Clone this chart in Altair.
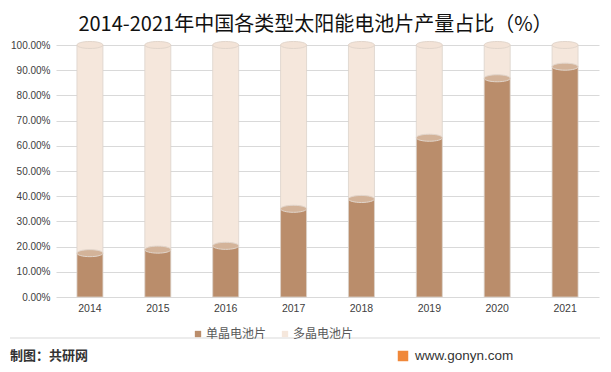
import altair as alt
import pandas as pd

years = ["2014", "2015", "2016", "2017", "2018", "2019", "2020", "2021"]
mono = [17.4, 18.8, 20.3, 35.0, 38.9, 63.2, 86.8, 91.4]
multi = [82.6, 81.2, 79.7, 65.0, 61.1, 36.8, 13.2, 8.6]
series = ["单晶电池片", "多晶电池片"]
colors = ["#BA8D6B", "#F5E7DC"]
cap_colors = ["#D3B399", "#F3E3D7"]
tick_values = [0, 0.1, 0.2, 0.3, 0.4, 0.5, 0.6, 0.7, 0.8, 0.9, 1.0]
title_text = "2014-2021年中国各类型太阳能电池片产量占比（%）"
source_text = "制图：共研网"
site_text = "www.gonyn.com"

CJK = "Noto Sans CJK SC"
NUM = "Liberation Sans, Arial"

rows = []
for i, yr in enumerate(years):
    rows.append({"year": yr, "type": series[0], "value": mono[i] / 100, "order": 0})
    rows.append({"year": yr, "type": series[1], "value": multi[i] / 100, "order": 1})
df = pd.DataFrame(rows)

caps = pd.DataFrame({
    "year": years * 2,
    "top": [m / 100 for m in mono] + [(a + b) / 100 for a, b in zip(mono, multi)],
    "type": [series[0]] * len(years) + [series[1]] * len(years),
})

x_axis = alt.Axis(labelAngle=0, domain=False, ticks=False, labelPadding=6,
                  labelFont=NUM, labelFontSize=10.5, labelColor="#404040")
y_axis = alt.Axis(values=tick_values, format=".2%", domain=False, ticks=False,
                  labelPadding=6, labelFont=NUM, labelFontSize=10,
                  labelColor="#404040", gridColor="#D9D9D9")
y_scale = alt.Scale(domain=[0, 1], nice=False)

bars = alt.Chart(df).mark_bar(size=26, stroke="#DCD3CC", strokeWidth=0.8).encode(
    x=alt.X("year:N", sort=years, title=None,
            scale=alt.Scale(paddingInner=0.6, paddingOuter=0.3), axis=x_axis),
    y=alt.Y("value:Q", stack="zero", title=None, scale=y_scale, axis=y_axis),
    color=alt.Color("type:N", scale=alt.Scale(domain=series, range=colors),
                    legend=alt.Legend(title=None, orient="none", legendX=136, legendY=283,
                                      direction="horizontal", symbolType="square",
                                      symbolSize=40, symbolStrokeWidth=0,
                                      labelFont=CJK, labelFontSize=12,
                                      labelColor="#595959", columnPadding=12,
                                      labelOffset=2)),
    order=alt.Order("order:Q"),
)

ellipse = "M-1,0 A1,0.27,0,1,0,1,0 A1,0.27,0,1,0,-1,0 Z"
cap_layer = alt.Chart(caps).mark_point(shape=ellipse, size=676, filled=True,
                                       stroke="#E2D6CC", strokeWidth=1, opacity=1).encode(
    x=alt.X("year:N", sort=years, title=None, axis=x_axis),
    y=alt.Y("top:Q", title=None, scale=y_scale, axis=y_axis),
    fill=alt.Fill("type:N", scale=alt.Scale(domain=series, range=cap_colors), legend=None),
)

one = pd.DataFrame({"a": [0]})
sep = alt.Chart(one).mark_rule(color="#D9D9D9", strokeWidth=1).encode(
    x=alt.value(-46), x2=alt.value(544), y=alt.value(293))

src = alt.Chart(pd.DataFrame({"t": [source_text]})).mark_text(
    align="left", baseline="middle", font=CJK, fontSize=13, fontWeight="bold",
    color="#333333").encode(x=alt.value(-46), y=alt.value(311), text="t:N")

logo = alt.Chart(one).mark_point(shape="square", size=110, filled=True,
                                 color="#F0883A", opacity=1).encode(
    x=alt.value(347), y=alt.value(311))

site = alt.Chart(pd.DataFrame({"t": [site_text]})).mark_text(
    align="left", baseline="middle", font="Liberation Sans, Arial", fontSize=13.5,
    color="#333333").encode(x=alt.value(359), y=alt.value(311), text="t:N")

chart = alt.layer(bars, cap_layer, sep, src, logo, site).resolve_scale(
    fill="independent"
).properties(
    width=543, height=252,
    padding={"left": 48, "top": 37, "right": 4, "bottom": 75},
    autosize=alt.AutoSizeParams(type="none"),
    background="white",
    title=alt.TitleParams(title_text, anchor="middle", dx=-12, offset=4,
                          font=CJK, fontSize=20, fontWeight="normal", color="#111111"),
).configure_view(stroke=None)

chart.save("out.html", embed_options={"renderer": "svg", "actions": False})
